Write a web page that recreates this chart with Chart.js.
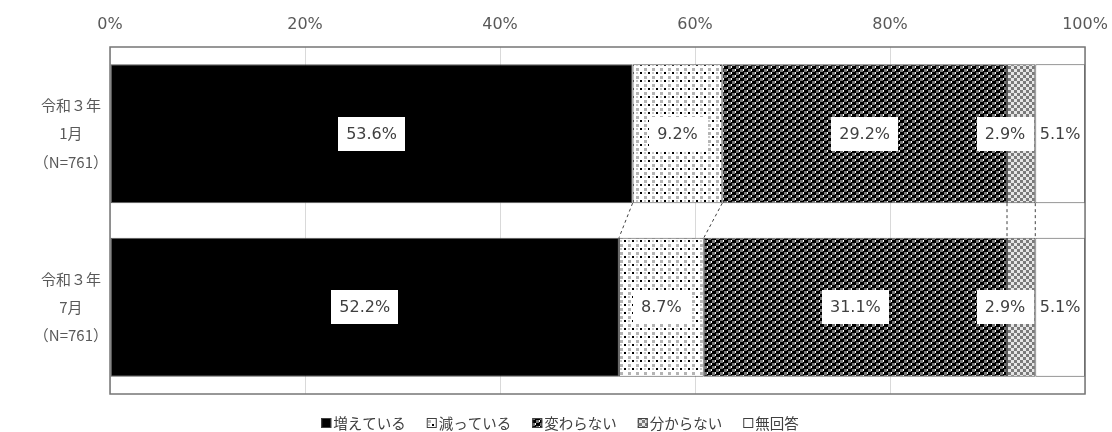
<!DOCTYPE html>
<html><head><meta charset="utf-8">
<script src="https://cdn.jsdelivr.net/npm/chart.js@4.4.0/dist/chart.umd.min.js"></script>
<style>html,body{margin:0;padding:0;background:#fff}#wrap{width:1112px;height:432px}</style>
</head><body><div id="wrap"><canvas id="c" width="1112" height="432"></canvas></div>
<script>
const categories = [['令和３年','1月','（N=761）'],['令和３年','7月','（N=761）']];
const seriesNames = ['増えている','減っている','変わらない','分からない','無回答'];
const increased = [53.6, 52.2];
const decreased = [9.2, 8.7];
const unchanged = [29.2, 31.1];
const unknown = [2.9, 2.9];
const noAnswer = [5.1, 5.1];
const tickLabels = ['0%','20%','40%','60%','80%','100%'];

const NUM_FONT = '"DejaVu Sans", "Noto Sans CJK JP", sans-serif';
const JP_FONT = '"Noto Sans CJK JP", "DejaVu Sans", sans-serif';
const canvas = document.getElementById('c');
const mainCtx = canvas.getContext('2d');

function makePattern(w, h, draw) {
  const c = document.createElement('canvas');
  c.width = w; c.height = h;
  const g = c.getContext('2d');
  draw(g);
  return mainCtx.createPattern(c, 'repeat');
}
const patDecreased = makePattern(8, 8, g => {
  g.fillStyle = '#fff'; g.fillRect(0,0,8,8);
  g.fillStyle = '#000'; g.fillRect(0,0,2,2);
  g.fillStyle = '#b4b4b4'; g.fillRect(4,4,3,3);
  g.fillStyle = '#c8c8c8'; g.fillRect(4,0,2,2);
});
const patUnchanged = makePattern(8, 6, g => {
  g.fillStyle = '#000'; g.fillRect(0,0,8,6);
  g.fillStyle = '#777777'; g.fillRect(0,0,3,3); g.fillRect(4,3,3,3);
  g.fillStyle = '#ffffff'; g.fillRect(3,0,1,2); g.fillRect(7,3,1,2);
});
const patUnknown = makePattern(6, 6, g => {
  g.fillStyle = '#e6e6e6'; g.fillRect(0,0,6,6);
  g.fillStyle = '#7a7a7a'; g.fillRect(0,0,3,3); g.fillRect(3,3,3,3);
});

const seriesValues = [increased, decreased, unchanged, unknown, noAnswer];
const fills = ['#000000', patDecreased, patUnchanged, patUnknown, '#ffffff'];

const datasets = seriesNames.map((name, i) => ({
  label: name,
  data: seriesValues[i],
  backgroundColor: fills[i],
  borderColor: '#595959',
  borderWidth: 1,
  borderSkipped: false
}));

const connectorPlugin = {
  id: 'connectors',
  afterDatasetsDraw(chart) {
    const ctx = chart.ctx;
    const xs = chart.scales.x;
    const n = chart.data.datasets.length;
    ctx.save();
    ctx.strokeStyle = '#404040';
    ctx.lineWidth = 1;
    ctx.setLineDash([3, 3]);
    let cum0 = 0, cum1 = 0;
    for (let d = 0; d < n - 1; d++) {
      cum0 += chart.data.datasets[d].data[0];
      cum1 += chart.data.datasets[d].data[1];
      const b0 = chart.getDatasetMeta(d).data[0];
      const b1 = chart.getDatasetMeta(d).data[1];
      const y0 = b0.y + b0.height / 2;
      const y1 = b1.y - b1.height / 2;
      ctx.beginPath();
      ctx.moveTo(xs.getPixelForValue(cum0), y0);
      ctx.lineTo(xs.getPixelForValue(cum1), y1);
      ctx.stroke();
    }
    ctx.restore();
  }
};

const borderPlugin = {
  id: 'plotBorder',
  afterDatasetsDraw(chart) {
    const a = chart.chartArea, ctx = chart.ctx;
    ctx.save();
    ctx.strokeStyle = '#767676';
    ctx.lineWidth = 1.5;
    ctx.strokeRect(a.left, a.top, a.right - a.left, a.bottom - a.top);
    ctx.restore();
  }
};

const labelPlugin = {
  id: 'segLabels',
  afterDatasetsDraw(chart) {
    const ctx = chart.ctx;
    ctx.save();
    ctx.font = '16px ' + NUM_FONT;
    chart.data.datasets.forEach((ds, di) => {
      const meta = chart.getDatasetMeta(di);
      meta.data.forEach((bar, i) => {
        const txt = ds.data[i].toFixed(1) + '%';
        const left = Math.min(bar.x, bar.base), right = Math.max(bar.x, bar.base);
        const seg = right - left;
        const tw = ctx.measureText(txt).width;
        let bw = tw + 16;
        let cx = (left + right) / 2;
        if (bw > seg) {
          if (seg - 4 >= tw + 2) bw = seg - 4;
          else cx = right - 2 - bw / 2;
        }
        const bh = 34;
        ctx.fillStyle = '#ffffff';
        ctx.fillRect(Math.round(cx - bw / 2), Math.round(bar.y - bh / 2), Math.round(bw), bh);
        ctx.fillStyle = '#404040';
        ctx.textAlign = 'center';
        ctx.textBaseline = 'middle';
        ctx.fillText(txt, cx, bar.y + 1);
      });
    });
    ctx.restore();
  }
};

const legendPlugin = {
  id: 'customLegend',
  afterDraw(chart) {
    const ctx = chart.ctx;
    ctx.save();
    ctx.font = '14.5px ' + JP_FONT;
    const box = 10, gapBox = 2, gapItem = 21;
    const items = chart.data.datasets.map(ds => ({ ds, w: box + gapBox + ctx.measureText(ds.label).width }));
    const total = items.reduce((s, it) => s + it.w, 0) + gapItem * (items.length - 1);
    let x = chart.width / 2 - total / 2 + 4;
    const cy = 423;
    items.forEach(it => {
      ctx.fillStyle = it.ds.backgroundColor;
      ctx.fillRect(x, cy - box / 2, box, box);
      ctx.strokeStyle = '#404040';
      ctx.lineWidth = 1;
      ctx.strokeRect(x + 0.5, cy - box / 2 + 0.5, box - 1, box - 1);
      ctx.fillStyle = '#404040';
      ctx.textAlign = 'left';
      ctx.textBaseline = 'middle';
      ctx.fillText(it.ds.label, x + box + gapBox, cy);
      x += it.w + gapItem;
    });
    ctx.restore();
  }
};

new Chart(canvas, {
  type: 'bar',
  data: { labels: categories, datasets },
  options: {
    indexAxis: 'y',
    responsive: false,
    animation: false,
    devicePixelRatio: 1,
    layout: { padding: { left: 0, right: 27, top: 0, bottom: 38 } },
    categoryPercentage: 0.8,
    barPercentage: 1.0,
    plugins: { legend: { display: false }, tooltip: { enabled: false } },
    scales: {
      x: {
        type: 'linear', position: 'top', stacked: true, min: 0, max: 100,
        ticks: { stepSize: 20, callback: (v, i) => tickLabels[i], color: '#595959', font: { family: NUM_FONT, size: 16 }, padding: 13, maxRotation: 0 },
        grid: { color: '#d9d9d9', drawTicks: false },
        border: { display: false },
        afterFit(s) { s.height = 47; s.paddingLeft = 0; s.paddingRight = 0; }
      },
      y: {
        stacked: true,
        ticks: { color: '#595959', font: { family: JP_FONT, size: 15, lineHeight: 1.87 }, crossAlign: 'center', padding: -6 },
        grid: { display: false },
        border: { display: false },
        afterFit(s) { s.width = 110; s.paddingTop = 0; s.paddingBottom = 0; }
      }
    }
  },
  plugins: [connectorPlugin, borderPlugin, labelPlugin, legendPlugin]
});
</script></body></html>
